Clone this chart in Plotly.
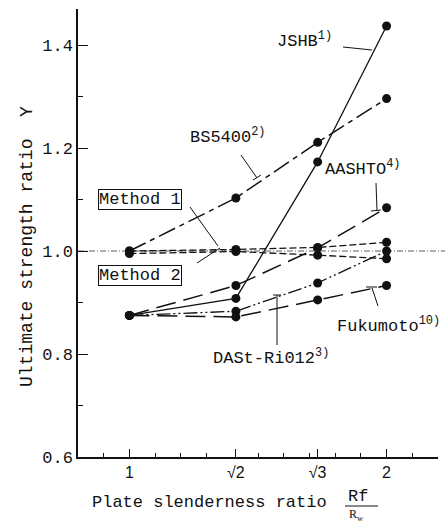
import plotly.graph_objects as go

# ---------------- data ----------------
x_vals = [1.0, 1.414, 1.732, 2.0]
x_ticktext = ["1", "√2", "√3", "2"]

jshb = [0.875, 0.908, 1.173, 1.437]
bs5400 = [1.000, 1.103, 1.211, 1.296]
aashto = [0.875, 0.933, 1.006, 1.084]
method1 = [1.000, 1.003, 1.007, 1.017]
method2 = [0.995, 0.999, 0.992, 0.985]
dast = [0.875, 0.883, 0.938, 1.000]
fukumoto = [0.875, 0.872, 0.905, 0.933]

y_ticks = [0.6, 0.8, 1.0, 1.2, 1.4]
y_minor = [0.7, 0.9, 1.1, 1.3]
x_minor = [0.9, 1.1, 1.2, 1.3, 1.5, 1.6, 1.7, 1.8, 1.9, 2.1, 2.2]

# ---------------- layout constants ----------------
W, H = 445, 525
ML, MR, MT, MB = 78, 7, 9, 68
PW, PH = W - ML - MR, H - MT - MB
XR = [0.8, 2.2]
YR = [0.6, 1.47]

MONO = "Courier New, Liberation Mono, monospace"
SANS = "Liberation Sans, Arial, sans-serif"
INK = "#111111"


def px(x):
    return (x - ML) / PW


def py(y):
    return (H - MB - y) / PH


fig = go.Figure()

series = [
    (jshb, "solid", 1.3),
    (bs5400, "18px,5px,5px,5px", 1.5),
    (aashto, "20px,8px", 1.5),
    (method1, "7px,3px", 1.3),
    (method2, "7px,3px", 1.3),
    (dast, "14px,3px,2px,3px,2px,3px", 1.3),
    (fukumoto, "20px,8px", 1.5),
]
for ys, dash, w in series:
    fig.add_trace(go.Scatter(
        x=x_vals, y=ys, mode="lines+markers",
        line=dict(color=INK, width=w, dash=dash),
        marker=dict(color=INK, size=9),
        showlegend=False, hoverinfo="skip", cliponaxis=False,
    ))

shapes = []
# reference line at Y = 1.0
shapes.append(dict(type="line", xref="paper", yref="y", x0=0, x1=(W - ML) / PW,
                   y0=1.0, y1=1.0, line=dict(color="#333333", width=0.8,
                                             dash="6px,2px,1px,2px"), layer="below"))

leaders = [
    ((343, 47), (372, 50)),      # JSHB
    ((241, 155), (257, 178)),    # BS5400
    ((253, 180), (261, 175)),    # BS5400 tick
    ((376, 183), (377, 211)),    # AASHTO
    ((371, 211), (381, 210)),    # AASHTO tick
    ((190, 207), (218, 246)),    # Method 1
    ((197, 263), (220, 248)),    # Method 2
    ((277, 295), (277, 345)),    # DASt
    ((273, 295), (281, 295)),    # DASt tick
    ((372, 288), (378, 306)),    # Fukumoto
    ((366, 287), (377, 287)),    # Fukumoto tick
    ((345, 506), (378, 506)),    # fraction bar
]
for (a, b) in leaders:
    shapes.append(dict(type="line", xref="paper", yref="paper",
                       x0=px(a[0]), y0=py(a[1]), x1=px(b[0]), y1=py(b[1]),
                       line=dict(color=INK, width=1)))

TF = dict(family=MONO, size=17, color=INK)
ann = []


def label(text, x, y, xanchor="left", font=TF, **kw):
    ann.append(dict(text=text, xref="paper", yref="paper", x=px(x), y=py(y),
                    xanchor=xanchor, yanchor="middle", showarrow=False,
                    font=font, **kw))


label("JSHB<sup>1)</sup>", 275, 40)
label("BS5400<sup>2)</sup>", 188, 136)
label("AASHTO<sup>4)</sup>", 323, 168)
label("Fukumoto<sup>10)</sup>", 335, 325)
label("DASt-Ri012<sup>3)</sup>", 211, 357)
label("Method 1", 98, 199, bordercolor=INK, borderwidth=1, borderpad=0,
      bgcolor="white")
label("Method 2", 98, 275, bordercolor=INK, borderwidth=1, borderpad=0,
      bgcolor="white")

# axis titles
label("Plate slenderness ratio", 90, 502)
label("Rf", 346, 497)
label("R<sub>w</sub>", 347, 515, font=dict(family="Liberation Serif, serif", size=12, color=INK))
ann.append(dict(text="Ultimate strength ratio  Y", xref="paper", yref="paper",
                x=px(27), y=py(247), xanchor="center", yanchor="middle",
                textangle=-90, showarrow=False, font=dict(family=MONO, size=18, color=INK)))

fig.update_layout(
    width=W, height=H,
    margin=dict(l=ML, r=MR, t=MT, b=MB, pad=0),
    paper_bgcolor="white", plot_bgcolor="white",
    shapes=shapes, annotations=ann,
    xaxis=dict(range=XR, showgrid=False, zeroline=False, showline=True,
               linecolor=INK, linewidth=1.5, ticks="inside", ticklen=8,
               tickwidth=1.2, tickcolor=INK, tickmode="array",
               tickvals=x_vals, ticktext=x_ticktext,
               tickfont=dict(family=SANS, size=16, color=INK),
               minor=dict(tickmode="array", tickvals=x_minor, ticks="inside",
                          ticklen=4, tickwidth=1, tickcolor=INK)),
    yaxis=dict(range=YR, showgrid=False, zeroline=False, showline=True,
               linecolor=INK, linewidth=1.5, ticks="inside", ticklen=10,
               tickwidth=1.2, tickcolor=INK, tickmode="array",
               tickvals=y_ticks, ticktext=[f"{v:.1f}" for v in y_ticks],
               tickfont=dict(family=MONO, size=17, color=INK),
               minor=dict(tickmode="array", tickvals=y_minor, ticks="inside",
                          ticklen=5, tickwidth=1, tickcolor=INK)),
)

fig.write_html("out.html")
